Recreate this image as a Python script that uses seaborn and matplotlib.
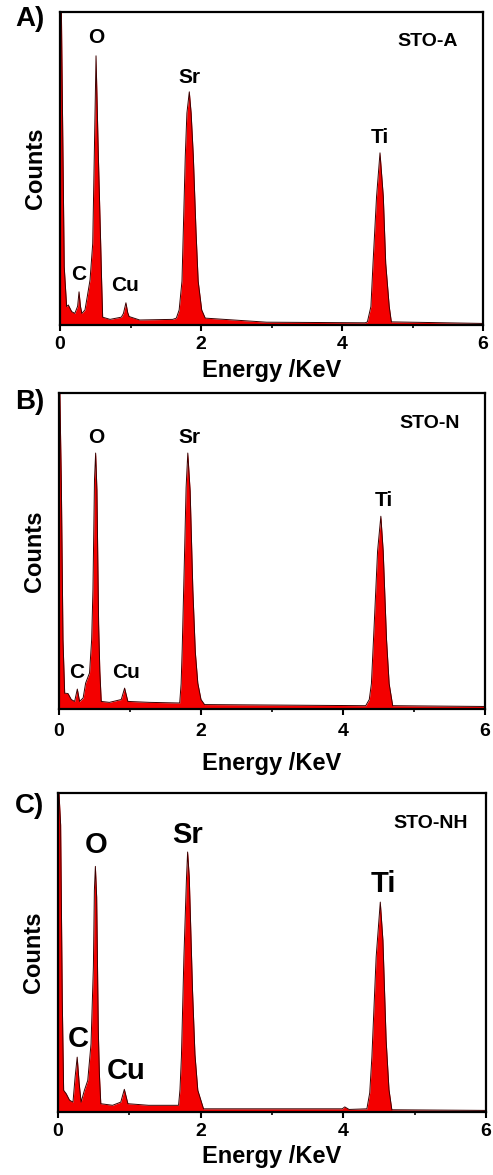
import numpy as np
import matplotlib
matplotlib.use("Agg")
import matplotlib.pyplot as plt
import seaborn as sns
from matplotlib.ticker import MultipleLocator

# EDS spectra (energy in keV, counts in % of axis height)
ENERGY_A = [0.0, 0.005, 0.02, 0.03, 0.06, 0.094, 0.118, 0.165, 0.21, 0.25, 0.27, 0.29,
            0.31, 0.354, 0.387, 0.426, 0.464, 0.487, 0.511, 0.543, 0.577, 0.59, 0.605,
            0.71, 0.87, 0.9, 0.935, 0.96, 0.98, 1.13, 1.6, 1.65, 1.69, 1.73, 1.749,
            1.777, 1.80, 1.834, 1.86, 1.891, 1.929, 1.96, 2.01, 2.06, 2.93, 4.33,
            4.36, 4.41, 4.44, 4.49, 4.539, 4.586, 4.62, 4.67, 4.70, 6.0]
COUNTS_A = [0, 100, 100, 79, 18.6, 5.9, 6.4, 4.3, 3.7, 6, 10.6, 6,
            3.7, 4.8, 9.1, 14.4, 26, 55, 86, 55, 26, 14.4, 2.5,
            1.8, 2.5, 3.7, 7.1, 4, 2.7, 1.6, 1.8, 2.2, 4.8, 14, 30,
            54, 67.7, 74.5, 67.7, 54, 30, 14, 4.8, 2.2, 0.9, 0.7,
            1, 5.9, 19.7, 41, 55, 41, 19.7, 5.9, 1, 0.5]

ENERGY_B = [0.0, 0.005, 0.012, 0.033, 0.056, 0.08, 0.127, 0.173, 0.22, 0.258, 0.29, 0.34,
            0.375, 0.43, 0.46, 0.478, 0.5, 0.516, 0.534, 0.558, 0.575, 0.595, 0.71,
            0.877, 0.924, 0.97, 1.275, 1.70, 1.72, 1.735, 1.767, 1.79, 1.814, 1.847,
            1.885, 1.92, 1.955, 2.0, 2.05, 4.32, 4.37, 4.40, 4.44, 4.487, 4.533,
            4.566, 4.613, 4.65, 4.70, 6.0]
COUNTS_B = [0, 100, 100, 71.5, 22, 5, 4.9, 3, 2.4, 6.3, 2.4, 3.5,
            8.2, 11.4, 22, 37.8, 72.6, 81, 69.4, 27, 12, 2.4, 2.1,
            3, 6.6, 2.4, 2.1, 1.9, 8, 18.8, 48, 70, 81, 69,
            37.8, 18, 8.2, 3, 1.4, 1.05, 3, 8, 27, 50, 61,
            50, 22, 8, 1.05, 0.8]

ENERGY_C = [0.0, 0.005, 0.014, 0.037, 0.06, 0.079, 0.116, 0.162, 0.21, 0.24, 0.269, 0.297,
            0.324, 0.37, 0.417, 0.463, 0.496, 0.51, 0.524, 0.542, 0.565, 0.58, 0.60,
            0.765, 0.88, 0.93, 0.98, 1.27, 1.69, 1.71, 1.73, 1.765, 1.80, 1.817, 1.84,
            1.886, 1.92, 1.96, 2.04, 3.985, 4.02, 4.08, 4.33, 4.37, 4.40, 4.46, 4.518,
            4.555, 4.60, 4.64, 4.68, 6.0]
COUNTS_C = [0, 100, 100, 90, 35, 6.8, 5.7, 3.7, 3.1, 11, 17.2, 8.9,
            3.1, 6.8, 9.9, 21.4, 45.5, 69.5, 77, 67.4, 25.6, 12, 2.6,
            2.1, 3.1, 7.1, 2.6, 2.1, 2.1, 7, 17.2, 48.6, 72.6, 81.5, 73.7,
            38, 18, 6.8, 1.0, 1.0, 1.6, 0.8, 1.0, 6, 17.2, 48.6, 65.8,
            53.8, 22.5, 7, 0.7, 0.5]

ELEMENTS = ["C", "O", "Cu", "Sr", "Ti"]
LABEL_POS_A = [(0.26, 16), (0.52, 92), (0.92, 12.5), (1.83, 79), (4.535, 60)]
LABEL_POS_B = [(0.244, 11.4), (0.525, 86), (0.947, 11.4), (1.84, 86), (4.58, 66)]
LABEL_POS_C = [(0.278, 23), (0.533, 83.6), (0.95, 13), (1.82, 86.7), (4.56, 71.6)]

SAMPLES = ["STO-A", "STO-N", "STO-NH"]
PANELS = ["A)", "B)", "C)"]
X_TICKS = [0, 2, 4, 6]

sns.set_style("ticks")
plt.rcParams['font.family'] = ['Liberation Sans', 'DejaVu Sans']
plt.rcParams['font.weight'] = 'bold'
plt.rcParams['text.color'] = 'black'
plt.rcParams['axes.labelcolor'] = 'black'
plt.rcParams['xtick.color'] = 'black'

fig = plt.figure(figsize=(4.93, 11.75), dpi=100)

# axes rectangles in figure fraction
rects = [
    [60 / 493, 1 - 325 / 1175, 423 / 493, 313 / 1175],
    [59 / 493, 1 - 709 / 1175, 426 / 493, 316 / 1175],
    [58 / 493, 1 - 1112 / 1175, 428 / 493, 319 / 1175],
]
spectra = [(ENERGY_A, COUNTS_A), (ENERGY_B, COUNTS_B), (ENERGY_C, COUNTS_C)]
label_pos = [LABEL_POS_A, LABEL_POS_B, LABEL_POS_C]
peak_fs = [15, 15, 21]
xlabel_y = [-0.11, -0.135, -0.105]
tick_pad = [4, 6, 4]
panel_y = [6, 389, 793]

red = "#f40000"

for i in range(3):
    ax = fig.add_axes(rects[i])
    energy, counts = spectra[i]
    ax.fill_between(energy, 0, counts, color=red, lw=0)
    sns.lineplot(x=energy, y=counts, ax=ax, color="#3a0000", lw=0.7,
                 estimator=None, sort=False)

    for el, (xx, yy) in zip(ELEMENTS, label_pos[i]):
        ax.text(xx, yy, el, ha="center", va="center", fontsize=peak_fs[i],
                fontweight="bold")
    ax.text(0.87, 0.905, SAMPLES[i], transform=ax.transAxes, ha="center",
            va="center", fontsize=14, fontweight="bold")

    ax.set_xlim(0, 6)
    ax.set_ylim(0, 100)
    ax.set_xticks(X_TICKS)
    ax.xaxis.set_minor_locator(MultipleLocator(1))
    ax.set_yticks([])
    ax.tick_params(axis="x", which="major", direction="out", length=4, width=1.5,
                   labelsize=14, pad=tick_pad[i])
    ax.tick_params(axis="x", which="minor", direction="out", length=2, width=1.2)
    for lab in ax.get_xticklabels():
        lab.set_fontweight("bold")
    for sp in ax.spines.values():
        sp.set_linewidth(1.6)
        sp.set_color("black")

    ax.set_xlabel("Energy /KeV", fontsize=17, fontweight="bold")
    ax.set_ylabel("Counts", fontsize=17, fontweight="bold")
    ax.xaxis.set_label_coords(0.5, xlabel_y[i])
    ax.yaxis.set_label_coords(-0.03, 0.5)

    fig.text(15 / 493, 1 - panel_y[i] / 1175, PANELS[i], ha="left", va="top",
             fontsize=20, fontweight="bold")

fig.savefig("out.png", dpi=100)
